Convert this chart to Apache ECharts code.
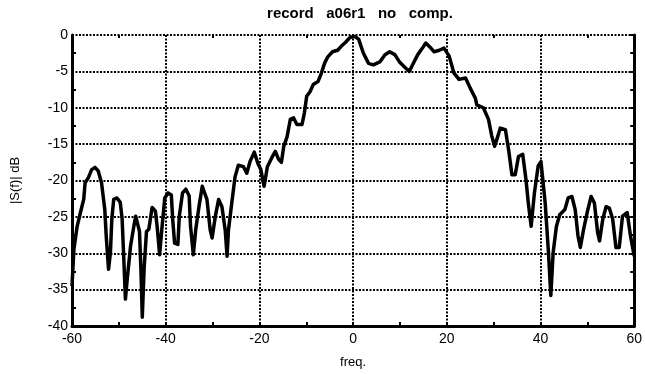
<!DOCTYPE html>
<html>
<head>
<meta charset="utf-8">
<script src="https://cdn.jsdelivr.net/npm/echarts@6/dist/echarts.min.js"></script>
<style>
  html, body { margin: 0; padding: 0; background: #fff; }
  #chart { width: 645px; height: 374px; }
</style>
</head>
<body>
<div id="chart"></div>
<script>
// spectrum magnitude
const freq = [
  -60, -59.6, -58.9, -58.2, -57.5, -57.2, -56.5, -55.8, -55.1, -54.4, -53.7, -53.0, -52.7, -52.2, -51.8,
  -51.5, -51.1, -50.4, -49.7, -49.3, -49.0, -48.6, -48.2, -47.5, -46.8, -46.4, -45.6, -45.3, -45.0, -44.6,
  -44.1, -43.6, -42.9, -42.2, -41.8, -41.3, -40.8, -40.2, -39.5, -38.8, -38.5, -38.1, -37.4, -37.1, -36.4,
  -35.7, -35.0, -34.7, -34.1, -33.6, -32.9, -32.2, -31.9, -31.2, -30.5, -30.1, -29.4, -28.7, -28.0, -27.3,
  -26.9, -26.6, -25.9, -25.2, -24.5, -23.4, -22.7, -22.0, -21.1, -20.3, -19.7, -19.0, -18.3, -17.3, -16.6,
  -15.9, -15.3, -14.8, -14.1, -13.4, -12.7, -12.0, -10.9, -10.4, -9.9, -9.2, -8.5, -7.5, -6.8, -6.1,
  -5.4, -4.4, -3.3, -2.3, -1.6, -0.6, 0.4, 1.2, 2.2, 3.3, 4.3, 5.7, 6.8, 7.8, 8.9,
  9.9, 11.3, 12.0, 12.7, 13.8, 14.8, 15.5, 16.6, 17.3, 18.4, 19.4, 20.5, 21.5, 22.6, 24.0,
  25.0, 26.1, 26.4, 27.8, 28.9, 29.6, 30.2, 30.9, 31.4, 32.5, 33.2, 33.9, 34.6, 35.3, 36.2,
  36.9, 37.4, 38.0, 38.7, 39.5, 40.1, 41.0, 41.7, 42.2, 42.7, 43.4, 44.1, 45.2, 45.9, 46.7,
  47.4, 48.0, 48.5, 49.2, 50.1, 50.8, 51.5, 52.2, 52.6, 53.3, 54.0, 54.7, 55.4, 56.1, 56.8,
  57.5, 58.5, 59.2, 60
];
const magDb = [
  -34.5, -29.5, -26.3, -24.4, -22.6, -20.3, -19.6, -18.5, -18.2, -18.7, -20.3, -24.0, -27.6, -32.2, -29.9,
  -25.3, -22.6, -22.4, -23.0, -25.3, -29.9, -36.3, -33.5, -29.0, -26.3, -24.9, -27.0, -32.0, -38.8, -32.0,
  -27.0, -26.7, -23.7, -24.2, -26.5, -30.2, -26.5, -22.4, -21.7, -22.0, -25.4, -28.6, -28.8, -24.9, -21.7,
  -21.2, -22.1, -26.3, -30.2, -26.8, -23.6, -20.8, -20.6, -22.6, -26.8, -27.9, -24.9, -22.6, -23.6, -26.8,
  -30.4, -26.8, -23.1, -19.5, -17.9, -18.1, -19.0, -17.4, -16.1, -17.7, -18.5, -20.8, -18.1, -16.8, -16.0,
  -17.1, -17.5, -15.3, -14.0, -11.6, -11.4, -12.3, -12.3, -10.7, -8.4, -7.8, -6.8, -6.4, -5.3, -3.9,
  -3.0, -2.3, -2.1, -1.4, -1.0, -0.3, -0.2, -0.6, -2.5, -3.9, -4.1, -3.7, -2.7, -2.3, -2.7,
  -3.7, -4.6, -5.0, -4.1, -2.7, -1.8, -1.1, -1.8, -2.3, -2.1, -1.8, -2.9, -5.2, -6.1, -5.9,
  -7.3, -8.7, -9.6, -10.0, -11.6, -13.9, -15.3, -13.9, -12.8, -13.0, -15.8, -19.2, -19.2, -16.7, -16.4,
  -19.9, -23.1, -26.3, -21.7, -18.0, -17.4, -23.1, -29.9, -35.8, -29.9, -26.3, -24.7, -24.0, -22.4, -22.2,
  -24.0, -27.6, -29.2, -26.7, -24.0, -22.2, -23.1, -27.2, -28.3, -25.3, -23.6, -23.8, -25.3, -29.2, -29.2,
  -24.9, -24.4, -27.6, -30.4
];
const xTicks = [-60, -40, -20, 0, 20, 40, 60];
const yTicks = [0, -5, -10, -15, -20, -25, -30, -35, -40];

const points = freq.map((f, i) => [f, magDb[i]]);

const chart = echarts.init(document.getElementById('chart'));
const font = '"Liberation Sans", Arial, sans-serif';
const dotted = { type: [2, 1.5], color: '#000', width: 2 };

const option = {
  animation: false,
  backgroundColor: '#fff',
  title: {
    text: 'record   a06r1   no   comp.',
    left: 355,
    textAlign: 'center',
    top: 1,
    textStyle: { fontFamily: font, fontWeight: 'bold', fontSize: 15, color: '#000' }
  },
  grid: { left: 72, right: 6, top: 35, bottom: 47 },
  xAxis: [
    {
      type: 'value',
      min: xTicks[0],
      max: xTicks[xTicks.length - 1],
      interval: 20,
      name: 'freq.',
      nameLocation: 'middle',
      nameGap: 30,
      nameTextStyle: { fontFamily: font, fontSize: 13, color: '#000' },
      axisLine: { show: true, onZero: false, lineStyle: { color: '#000', width: 3 } },
      axisTick: { show: true, inside: true, length: 4, lineStyle: { color: '#000', width: 2 } },
      minorTick: { show: true, splitNumber: 2, length: 4, lineStyle: { color: '#000', width: 2 } },
      axisLabel: { fontFamily: font, fontSize: 14, color: '#000', margin: 6 },
      splitLine: { show: true, lineStyle: dotted }
    },
    {
      type: 'value',
      position: 'top',
      min: xTicks[0],
      max: xTicks[xTicks.length - 1],
      interval: 20,
      axisLine: { show: false, onZero: false },
      axisTick: { show: true, inside: true, length: 0 },
      minorTick: { show: true, splitNumber: 2, length: 3, lineStyle: { color: '#000', width: 2 } },
      axisLabel: { show: false },
      splitLine: { show: false }
    }
  ],
  yAxis: [
    {
      type: 'value',
      min: yTicks[yTicks.length - 1],
      max: yTicks[0],
      interval: 5,
      name: '|S(f)| dB',
      nameLocation: 'middle',
      nameGap: 50,
      nameRotate: 90,
      nameTextStyle: { fontFamily: font, fontSize: 13, color: '#000' },
      axisLine: { show: true, onZero: false, lineStyle: { color: '#000', width: 3 } },
      axisTick: { show: true, inside: true, length: 0 },
      minorTick: { show: true, splitNumber: 2, length: 4, lineStyle: { color: '#000', width: 2 } },
      axisLabel: { fontFamily: font, fontSize: 14, color: '#000', margin: 4 },
      splitLine: { show: true, lineStyle: dotted }
    },
    {
      type: 'value',
      position: 'right',
      min: yTicks[yTicks.length - 1],
      max: yTicks[0],
      interval: 5,
      axisLine: { show: true, onZero: false, lineStyle: { color: '#000', width: 3 } },
      axisTick: { show: true, inside: true, length: 4, lineStyle: { color: '#000', width: 2 } },
      minorTick: { show: true, splitNumber: 2, length: 4, lineStyle: { color: '#000', width: 2 } },
      axisLabel: { show: false },
      splitLine: { show: false }
    }
  ],
  series: [
    {
      type: 'line',
      data: points,
      showSymbol: false,
      lineStyle: { color: '#000', width: 3.5, join: 'round' },
      clip: true
    }
  ]
};

chart.setOption(option);
</script>
</body>
</html>
